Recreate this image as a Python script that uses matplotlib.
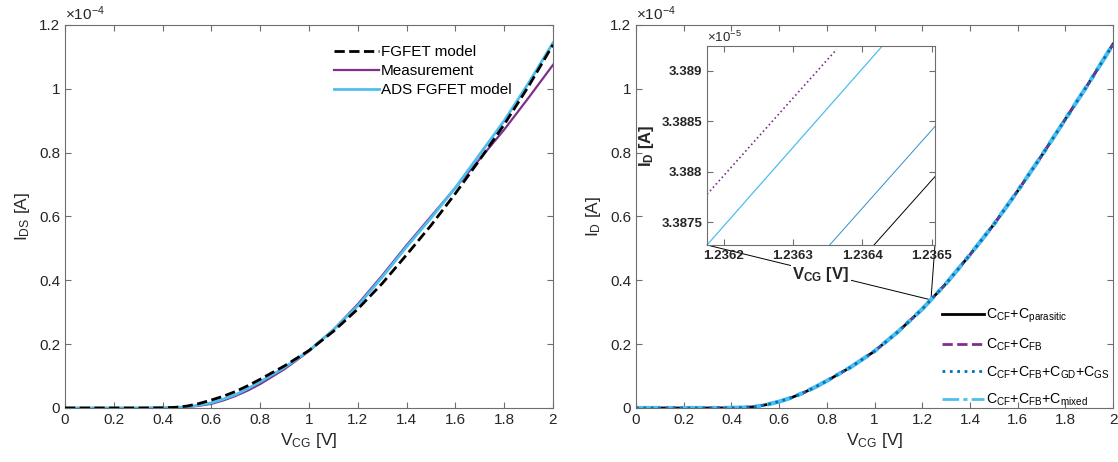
"""
FGFET drain current vs control gate voltage, with zoom inset
"""
import numpy as np
import matplotlib
matplotlib.use("Agg")
import matplotlib.pyplot as plt
from matplotlib.patches import ConnectionPatch
from matplotlib.ticker import FuncFormatter

plt.rcParams['font.family'] = ['Liberation Sans', 'DejaVu Sans']
plt.rcParams['mathtext.fontset'] = 'custom'
plt.rcParams['mathtext.rm'] = 'Liberation Sans'
plt.rcParams['mathtext.it'] = 'Liberation Sans:italic'
plt.rcParams['mathtext.bf'] = 'Liberation Sans:bold'

# data (currents in units of 1e-4 A)
v_cg = [0.0, 0.1, 0.2, 0.3, 0.4, 0.45, 0.5, 0.55, 0.6, 0.65, 0.7, 0.75, 0.8,
        0.9, 1.0, 1.1, 1.2, 1.3, 1.4, 1.5, 1.6, 1.7, 1.8, 1.9, 2.0]
i_fgfet = [0, 0, 0, 0, 0.0005, 0.002, 0.006, 0.014, 0.025, 0.037, 0.052, 0.07,
           0.09, 0.132, 0.18, 0.24, 0.31, 0.39, 0.48, 0.572, 0.672, 0.778,
           0.888, 1.008, 1.138]
i_meas = [0, 0, 0, 0, 0.0005, 0.001, 0.003, 0.007, 0.013, 0.024, 0.038, 0.055,
          0.075, 0.122, 0.178, 0.245, 0.325, 0.415, 0.51, 0.60, 0.69, 0.78,
          0.872, 0.972, 1.075]
i_ads = [0, 0, 0, 0, 0.0005, 0.0015, 0.004, 0.009, 0.016, 0.028, 0.042, 0.061,
         0.082, 0.127, 0.18, 0.245, 0.32, 0.41, 0.505, 0.595, 0.69, 0.795,
         0.90, 1.018, 1.144]
i_right = [0, 0, 0, 0, 0.0005, 0.0015, 0.004, 0.011, 0.02, 0.032, 0.047, 0.065,
           0.085, 0.128, 0.178, 0.24, 0.31, 0.39, 0.48, 0.575, 0.68, 0.79,
           0.905, 1.02, 1.14]

# inset data (currents in units of 1e-5 A)
ins_v_par = [1.236417, 1.236510]
ins_i_par = [3.387276, 3.387991]
ins_v_fb = [1.236176, 1.236363]
ins_i_fb = [3.387777, 3.389211]
ins_v_gdgs = [1.236353, 1.236510]
ins_i_gdgs = [3.387276, 3.388487]
ins_v_mix = [1.236176, 1.236429]
ins_i_mix = [3.387276, 3.389244]
zoom_v = 1.2364
zoom_i = 3.388

black = 'black'
purple = '#7E2F8E'
blue = '#0072BD'
lblue = '#4DBEEE'
txt = '#262626'
spine = '#6e6e6e'

fmt = FuncFormatter(lambda x, p: '%g' % round(x, 6))


def style(ax, fs=11):
    for s in ax.spines.values():
        s.set_color(spine)
        s.set_linewidth(0.8)
    ax.tick_params(direction='in', top=True, right=True, length=4,
                   width=0.8, color=spine, labelcolor=txt, labelsize=fs)


fig = plt.figure(figsize=(11.18, 4.62), dpi=100)

# left panel
ax1 = fig.add_axes([0.0581, 0.1169, 0.4365, 0.829])
ax1.plot(v_cg, i_fgfet, '--', color=black, lw=2, label='FGFET model', zorder=3)
ax1.plot(v_cg, i_meas, '-', color=purple, lw=1.6, label='Measurement')
ax1.plot(v_cg, i_ads, '-', color=lblue, lw=2, label='ADS FGFET model')
ax1.set_xlim(0, 2)
ax1.set_ylim(0, 1.2)
ax1.set_xticks(np.arange(0, 2.01, 0.2))
ax1.set_yticks(np.arange(0, 1.21, 0.2))
ax1.xaxis.set_major_formatter(fmt)
ax1.yaxis.set_major_formatter(fmt)
style(ax1)
ax1.set_xlabel('V$_{\\mathrm{CG}}$ [V]', fontsize=12.5, color=txt, labelpad=3)
ax1.set_ylabel('I$_{\\mathrm{DS}}$ [A]', fontsize=12.5, color=txt, labelpad=5)
ax1.text(0, 1.005, '\u00d710$^{-4}$', transform=ax1.transAxes,
         ha='left', va='bottom', fontsize=11, color=txt)
ax1.legend(loc='upper left', bbox_to_anchor=(0.53, 0.975), frameon=False,
           fontsize=11, handlelength=2.9, handletextpad=0.15,
           labelspacing=0.33, borderpad=0.2)

# right panel
ax2 = fig.add_axes([0.5689, 0.1169, 0.4267, 0.829])
ax2.plot(v_cg, i_right, '-', color=black, lw=2,
         label='C$_{\\mathrm{CF}}$+C$_{\\mathrm{parasitic}}$')
ax2.plot(v_cg, i_right, '--', color=purple, lw=2,
         label='C$_{\\mathrm{CF}}$+C$_{\\mathrm{FB}}$')
ax2.plot(v_cg, i_right, '-.', color=lblue, lw=3, dashes=(6, 1.5, 1.5, 1.5),
         label='C$_{\\mathrm{CF}}$+C$_{\\mathrm{FB}}$+C$_{\\mathrm{mixed}}$')
ax2.plot(v_cg, i_right, ':', color=blue, lw=2,
         label='C$_{\\mathrm{CF}}$+C$_{\\mathrm{FB}}$+C$_{\\mathrm{GD}}$+C$_{\\mathrm{GS}}$')
ax2.set_xlim(0, 2)
ax2.set_ylim(0, 1.2)
ax2.set_xticks(np.arange(0, 2.01, 0.2))
ax2.set_yticks(np.arange(0, 1.21, 0.2))
ax2.xaxis.set_major_formatter(fmt)
ax2.yaxis.set_major_formatter(fmt)
style(ax2)
ax2.set_xlabel('V$_{\\mathrm{CG}}$ [V]', fontsize=12.5, color=txt, labelpad=3)
ax2.set_ylabel('I$_{\\mathrm{D}}$ [A]', fontsize=12.5, color=txt, labelpad=5)
ax2.text(0, 1.005, '\u00d710$^{-4}$', transform=ax2.transAxes,
         ha='left', va='bottom', fontsize=11, color=txt)
hs, ls = ax2.get_legend_handles_labels()
order = [0, 1, 3, 2]
leg2 = ax2.legend([hs[k] for k in order], [ls[k] for k in order],
                  loc='upper left', bbox_to_anchor=(0.62, 0.29), frameon=False,
                  fontsize=10.2, handlelength=3.0, handletextpad=0.15,
                  labelspacing=0.8, borderpad=0.2)
for h in leg2.get_lines():
    h.set_linewidth(2)

# inset
axi = fig.add_axes([0.6324, 0.4697, 0.2039, 0.4307])
axi.plot(ins_v_par, ins_i_par, '-', color=black, lw=0.7)
axi.plot(ins_v_fb, ins_i_fb, ':', color=purple, lw=1.2)
axi.plot(ins_v_gdgs, ins_i_gdgs, '-', color=blue, lw=0.7, alpha=0.8)
axi.plot(ins_v_mix, ins_i_mix, '-', color=lblue, lw=0.9)
axi.set_xlim(1.236176, 1.236505)
axi.set_ylim(3.387276, 3.389244)
axi.set_xticks([1.2362, 1.2363, 1.2364, 1.2365])
axi.set_yticks([3.3875, 3.388, 3.3885, 3.389])
axi.xaxis.set_major_formatter(fmt)
axi.yaxis.set_major_formatter(fmt)
style(axi, fs=9.5)
for lab in axi.get_xticklabels() + axi.get_yticklabels():
    lab.set_fontweight('bold')
axi.set_xlabel('$\\mathbf{V}_{\\mathbf{CG}}$ [V]', fontsize=12, fontweight='bold',
               color=txt, labelpad=2,
               bbox=dict(facecolor='white', edgecolor='none', pad=1))
axi.set_ylabel('$\\mathbf{I}_{\\mathbf{D}}$ [A]', fontsize=12, fontweight='bold',
               color=txt, labelpad=4)
axi.text(0, 1.005, '\u00d710$^{-5}$', transform=axi.transAxes,
         ha='left', va='bottom', fontsize=9.5, color=txt)

# connector lines from inset corners to zoom location
for cx in (0, 1):
    con = ConnectionPatch(xyA=(cx, 0), coordsA=axi.transAxes,
                          xyB=(zoom_v, zoom_i / 10), coordsB=ax2.transData,
                          color='black', lw=0.7)
    ax2.add_artist(con)

fig.savefig('out.png', dpi=100)
